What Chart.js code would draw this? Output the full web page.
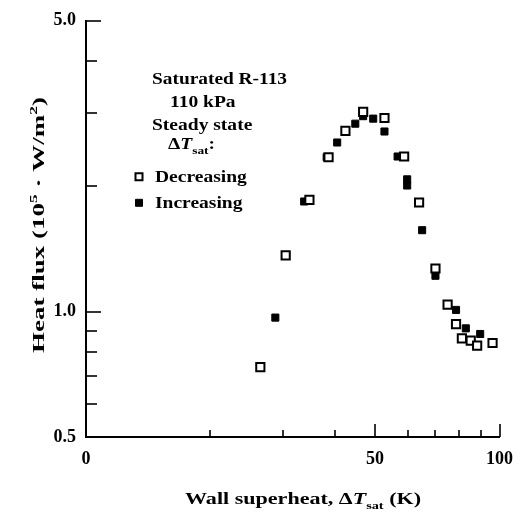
<!DOCTYPE html>
<html>
<head>
<meta charset="utf-8">
<script src="https://cdn.jsdelivr.net/npm/chart.js@4.4.0/dist/chart.umd.min.js"></script>
<style>
  html, body { margin: 0; padding: 0; background: #fff; }
  #wrap { width: 525px; height: 513px; }
</style>
</head>
<body>
<div id="wrap"><canvas id="fluxChart"></canvas></div>
<script>
// Saturated R-113, 110 kPa, steady state boiling curve
const decreasingX = [26.4, 30.4, 34.7, 38.6, 42.4, 46.8, 52.7, 58.8, 63.9, 70.0, 74.9, 78.5, 81.1, 85.2, 88.3, 96.2];
const decreasingY = [0.736, 1.365, 1.857, 2.35, 2.72, 3.02, 2.92, 2.36, 1.83, 1.27, 1.04, 0.934, 0.863, 0.852, 0.829, 0.841];
const increasingX = [28.7, 33.7, 38.2, 40.5, 44.8, 46.8, 49.5, 52.7, 56.7, 59.8, 59.8, 65.0, 70.0, 78.5, 82.9, 89.8];
const increasingY = [0.968, 1.84, 2.35, 2.55, 2.83, 2.95, 2.91, 2.71, 2.36, 2.08, 2.01, 1.57, 1.22, 1.01, 0.912, 0.884];

const xTicks = [10, 20, 30, 40, 50, 60, 70, 80, 90, 100];
const xTickLabels = { 10: '0', 50: '50', 100: '100' };
const yTicks = [0.5, 0.6, 0.7, 0.8, 0.9, 1, 2, 3, 4, 5];
const yTickLabels = { 0.5: '0.5', 1: '1.0', 5: '5.0' };

const noteLines = ['Saturated R-113', '110 kPa', 'Steady state'];
const legendNames = ['Decreasing', 'Increasing'];

const SERIF = '"Liberation Serif", "Times New Roman", serif';

function toPoints(xs, ys) {
    return xs.map((x, i) => ({ x: x, y: ys[i] }));
}

// draw a run of text pieces (different fonts / raised or lowered).
// the old typeset font is much wider than Liberation, so stretch it horizontally
function drawRich(ctx, parts, x, y, align, stretch) {
    let total = 0;
    parts.forEach(p => { ctx.font = p.font; total += ctx.measureText(p.text).width; });
    let k = stretch || 1;
    if (stretch && stretch > 10) k = stretch / total; // given as a target width
    ctx.save();
    ctx.translate(x, y);
    ctx.scale(k, 1);
    let cx = align === 'center' ? -total / 2 : 0;
    ctx.textAlign = 'left';
    ctx.textBaseline = 'alphabetic';
    parts.forEach(p => {
        ctx.font = p.font;
        ctx.fillText(p.text, cx, p.dy || 0);
        cx += ctx.measureText(p.text).width;
    });
    ctx.restore();
}

const big = 'bold 17px ' + SERIF;
const bigItalic = 'italic bold 17px ' + SERIF;
const note = 'bold 16px ' + SERIF;
const noteItalic = 'italic bold 16px ' + SERIF;
const small = 'bold 11px ' + SERIF;
const NOTE_STRETCH = 1.22;

// ticks point into the plot area, longer at labelled values
const inwardTicks = {
    id: 'inwardTicks',
    afterDraw(chart) {
        const ctx = chart.ctx;
        const xs = chart.scales.x, ys = chart.scales.y, ca = chart.chartArea;
        ctx.save();
        ctx.strokeStyle = '#000';
        ctx.lineWidth = 1.6;
        xTicks.forEach(v => {
            if (v === xs.min) return;
            const px = Math.round(xs.getPixelForValue(v));
            const len = xTickLabels[v] ? 13 : 7;
            ctx.beginPath();
            ctx.moveTo(px, ca.bottom);
            ctx.lineTo(px, ca.bottom - len);
            ctx.stroke();
        });
        yTicks.forEach(v => {
            if (v === ys.min) return;
            const py = Math.round(ys.getPixelForValue(v));
            const len = yTickLabels[v] ? 15 : 11;
            ctx.beginPath();
            ctx.moveTo(ca.left, py);
            ctx.lineTo(ca.left + len, py);
            ctx.stroke();
        });
        ctx.restore();
    }
};

// axis titles with sub/superscripts, plus the note and legend block
const textBlock = {
    id: 'textBlock',
    afterDraw(chart) {
        const ctx = chart.ctx, ca = chart.chartArea;
        ctx.save();
        ctx.fillStyle = '#000';

        drawRich(ctx, [
            { text: 'Wall superheat, \u0394', font: big },
            { text: 'T', font: bigItalic },
            { text: 'sat', font: small, dy: 5 },
            { text: ' (K)', font: big }
        ], 303, 504, 'center', 236);

        ctx.save();
        ctx.translate(44, 225);
        ctx.rotate(-Math.PI / 2);
        drawRich(ctx, [
            { text: 'Heat flux (10', font: big },
            { text: '5', font: small, dy: -7 },
            { text: ' \u00b7 W/m', font: big },
            { text: '2', font: small, dy: -7 },
            { text: ')', font: big }
        ], 0, 0, 'center', 256);
        ctx.restore();

        const lx = ca.left, ty = ca.top;
        drawRich(ctx, [{ text: noteLines[0], font: note }], lx + 66, ty + 63, 'left', 135);
        drawRich(ctx, [{ text: noteLines[1], font: note }], lx + 84, ty + 86, 'left', NOTE_STRETCH);
        drawRich(ctx, [{ text: noteLines[2], font: note }], lx + 66, ty + 109, 'left', NOTE_STRETCH);
        drawRich(ctx, [
            { text: '\u0394', font: note },
            { text: 'T', font: noteItalic },
            { text: 'sat', font: small, dy: 5 },
            { text: ':', font: note }
        ], lx + 82, ty + 128, 'left', NOTE_STRETCH);

        chart.data.datasets.forEach((ds, i) => {
            const cy = ty + 156 + i * 26;
            const s = 3.5;
            ctx.fillStyle = ds.pointBackgroundColor;
            ctx.strokeStyle = ds.pointBorderColor;
            ctx.lineWidth = ds.pointBorderWidth;
            ctx.beginPath();
            ctx.rect(lx + 53 - s, cy - s, 2 * s, 2 * s);
            ctx.fill();
            ctx.stroke();
            ctx.fillStyle = '#000';
            drawRich(ctx, [{ text: legendNames[i], font: note }], lx + 69, cy + 5.5, 'left', NOTE_STRETCH);
        });
        ctx.restore();
    }
};

new Chart(document.getElementById('fluxChart').getContext('2d'), {
    type: 'scatter',
    data: {
        datasets: [{
            label: legendNames[0],
            data: toPoints(decreasingX, decreasingY),
            pointStyle: 'rect',
            pointRadius: 5.8,
            pointBorderWidth: 2,
            pointBackgroundColor: '#fff',
            pointBorderColor: '#000'
        }, {
            label: legendNames[1],
            data: toPoints(increasingX, increasingY),
            pointStyle: 'rect',
            pointRadius: 5,
            pointBorderWidth: 1,
            pointBackgroundColor: '#000',
            pointBorderColor: '#000'
        }]
    },
    options: {
        responsive: true,
        maintainAspectRatio: false,
        animation: false,
        layout: {
            padding: { top: 18, right: 18, left: 0, bottom: 0 }
        },
        scales: {
            x: {
                type: 'logarithmic',
                min: 10,
                max: 100,
                afterFit: s => { s.height = 76; },
                afterBuildTicks: s => { s.ticks = xTicks.map(v => ({ value: v })); },
                grid: { display: false, drawTicks: false },
                border: { display: true, color: '#000', width: 2 },
                ticks: {
                    autoSkip: false,
                    maxRotation: 0,
                    padding: 12,
                    color: '#000',
                    font: { family: SERIF, size: 18, weight: 'bold' },
                    callback: v => xTickLabels[v] || ''
                }
            },
            y: {
                type: 'logarithmic',
                min: 0.5,
                max: 5,
                afterFit: s => { s.width = 86; },
                afterBuildTicks: s => { s.ticks = yTicks.map(v => ({ value: v })); },
                grid: { display: false, drawTicks: false },
                border: { display: true, color: '#000', width: 2 },
                ticks: {
                    autoSkip: false,
                    padding: 10,
                    color: '#000',
                    font: { family: SERIF, size: 18, weight: 'bold' },
                    callback: v => yTickLabels[v] || ''
                }
            }
        },
        plugins: {
            legend: { display: false },
            tooltip: { enabled: false }
        }
    },
    plugins: [inwardTicks, textBlock]
});
</script>
</body>
</html>
